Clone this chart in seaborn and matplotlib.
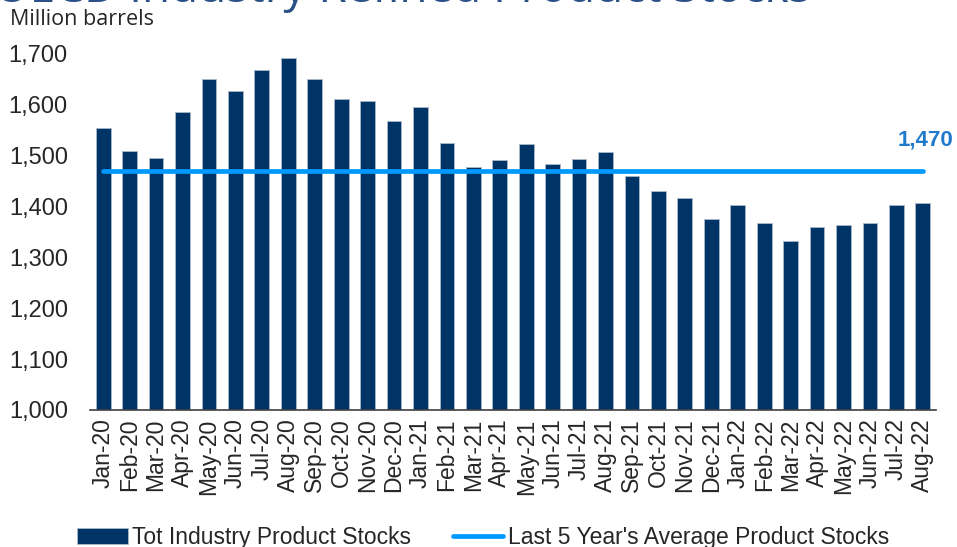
import pandas as pd
import matplotlib.pyplot as plt
import seaborn as sns

# monthly stocks, million barrels
months = ["Jan-20", "Feb-20", "Mar-20", "Apr-20", "May-20", "Jun-20", "Jul-20", "Aug-20",
          "Sep-20", "Oct-20", "Nov-20", "Dec-20", "Jan-21", "Feb-21", "Mar-21", "Apr-21",
          "May-21", "Jun-21", "Jul-21", "Aug-21", "Sep-21", "Oct-21", "Nov-21", "Dec-21",
          "Jan-22", "Feb-22", "Mar-22", "Apr-22", "May-22", "Jun-22", "Jul-22", "Aug-22"]
stocks = [1554, 1510, 1496, 1585, 1650, 1627, 1668, 1693,
          1650, 1612, 1608, 1569, 1595, 1524, 1477, 1492,
          1523, 1484, 1493, 1507, 1461, 1431, 1417, 1375,
          1403, 1367, 1332, 1359, 1363, 1368, 1403, 1407]
avg_5yr = 1470
yticks = [1000, 1100, 1200, 1300, 1400, 1500, 1600, 1700]

df = pd.DataFrame({"month": months, "stocks": stocks})

sns.set_style("white")
plt.rcParams["font.family"] = ["Liberation Sans", "DejaVu Sans"]

fig = plt.figure(figsize=(9.57, 5.47), dpi=100)
ax = fig.add_axes([90 / 957, 0.2505, 846 / 957, 0.6508])

sns.barplot(data=df, x="month", y="stocks", color="#003366", saturation=1,
            width=0.56, edgecolor="#a9b9cc", linewidth=0.6, ax=ax,
            label="Tot Industry Product Stocks")

# 5 year average as a flat line across all months
sns.lineplot(x=list(range(len(months))), y=[avg_5yr] * len(months), color="#0099ff",
             linewidth=3.4, solid_capstyle="round", ax=ax,
             label="Last 5 Year's Average Product Stocks")

ax.annotate(f"{avg_5yr:,}", xy=(len(months) - 1, avg_5yr), xytext=(-18, 22),
            textcoords="offset points", ha="left", va="center",
            fontsize=16, fontweight="bold", color="#1f7acc", annotation_clip=False)

ax.set_xlim(-0.5, len(months) - 0.5)
ax.set_ylim(1000, 1700)
ax.set_yticks(yticks)
ax.set_yticklabels([f"{v:,}" for v in yticks])
ax.tick_params(axis="y", length=0, pad=16, labelsize=17)
ax.tick_params(axis="x", length=0, pad=6, labelsize=16.5, labelrotation=90)
ax.set_xlabel("")
ax.set_ylabel("")
sns.despine(ax=ax, left=True)
ax.spines["bottom"].set_color("#404040")
ax.spines["bottom"].set_linewidth(1.2)

# legend sits at the very bottom (partly cut off in the original)
handles, labels = ax.get_legend_handles_labels()
order = [labels.index("Tot Industry Product Stocks"),
         labels.index("Last 5 Year's Average Product Stocks")]
ax.get_legend().remove()
fig.legend([handles[i] for i in order], [labels[i] for i in order], loc="center",
           bbox_to_anchor=(483 / 957, 0.018), ncol=2, frameon=False, fontsize=16.5,
           handlelength=2.2, handletextpad=0.2, columnspacing=1.8)

# title, mostly above the top edge
fig.text(-0.006, 1 - 2 / 547, "OECD Industry Refined Product Stocks", fontsize=33,
         color="#2a5187", family=["Open Sans", "DejaVu Sans"], va="baseline", ha="left")
fig.text(10 / 957, 1 - 25 / 547, "Million barrels", fontsize=15.5,
         family=["Open Sans", "DejaVu Sans"], va="baseline", ha="left")

fig.savefig("out.png", dpi=100)
plt.close(fig)
